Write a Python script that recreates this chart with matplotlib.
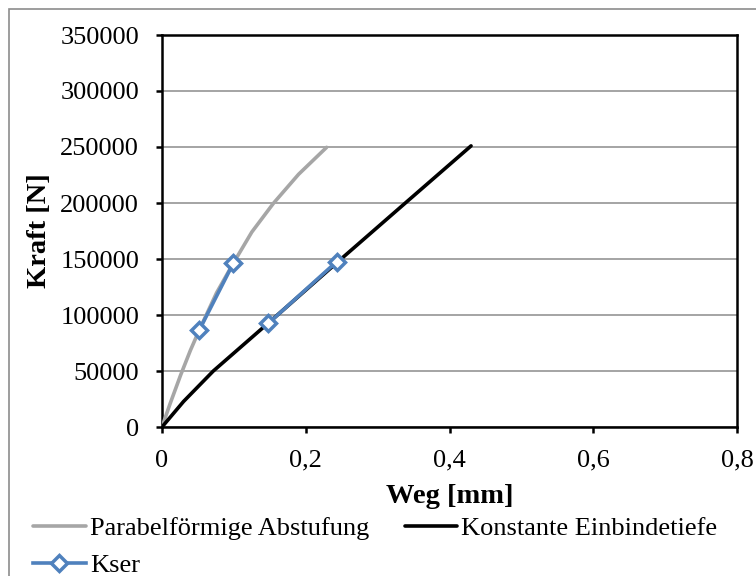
import matplotlib
matplotlib.use("Agg")
import matplotlib.pyplot as plt
from matplotlib.patches import Rectangle
from matplotlib.ticker import FuncFormatter
import numpy as np

plt.rcParams['font.family'] = ['Liberation Serif', 'DejaVu Serif']

# Load-displacement curves
weg_parabel = [0.0, 0.0111, 0.026, 0.0395, 0.0519, 0.076, 0.0992, 0.125, 0.155, 0.19, 0.229]
kraft_parabel = [0, 20500, 46500, 68400, 86600, 119900, 146200, 174100, 199700, 225600, 249700]

weg_konstant = [0.0, 0.03, 0.0714, 0.15, 0.25, 0.34, 0.43]
kraft_konstant = [0, 22800, 50000, 94000, 150500, 200800, 251000]

# Kser secant points (two separate segments)
weg_kser = [0.0519, 0.0992, np.nan, 0.148, 0.243]
kraft_kser = [86600, 146200, np.nan, 92600, 147600]

x_ticks = [0, 0.2, 0.4, 0.6, 0.8]
y_ticks = [0, 50000, 100000, 150000, 200000, 250000, 300000, 350000]

fig = plt.figure(figsize=(7.56, 5.76), dpi=100)
ax = fig.add_axes([162/756, 1 - 427/576, (737 - 162)/756, (427 - 35)/576])

ax.plot(weg_parabel, kraft_parabel, color='#A6A6A6', lw=2.6,
        label='Parabelförmige Abstufung', zorder=3,
        solid_capstyle='round', solid_joinstyle='round')
ax.plot(weg_konstant, kraft_konstant, color='black', lw=2.6,
        label='Konstante Einbindetiefe', zorder=3,
        solid_capstyle='round', solid_joinstyle='round')
ax.plot(weg_kser, kraft_kser, color='#4F81BD', lw=2.6, marker='D', ms=8,
        mfc='white', mec='#4F81BD', mew=2.5, label='Kser', zorder=4,
        solid_joinstyle='round')

ax.set_xlim(0, 0.8)
ax.set_ylim(0, 350000)
ax.set_xticks(x_ticks)
ax.set_yticks(y_ticks)
ax.xaxis.set_major_formatter(FuncFormatter(lambda v, p: ('%g' % v).replace('.', ',')))
ax.yaxis.set_major_formatter(FuncFormatter(lambda v, p: '%d' % v))
ax.grid(axis='y', color='#8C8C8C', lw=1.1)
ax.set_axisbelow(True)
for s in ax.spines.values():
    s.set_color('black')
    s.set_linewidth(1.8)
ax.tick_params(axis='both', direction='out', length=4.5, width=1.8,
               labelsize=19, colors='black')
ax.tick_params(axis='y', pad=12)
ax.tick_params(axis='x', pad=12)

ax.set_xlabel('Weg [mm]', fontsize=20.5, fontweight='bold', labelpad=9)
ax.set_ylabel('Kraft [N]', fontsize=20.5, fontweight='bold', labelpad=6)

h, l = ax.get_legend_handles_labels()
order = [0, 2, 1]
fig.legend([h[i] for i in order], [l[i] for i in order], ncol=2,
           loc='upper left', bbox_to_anchor=(33/756, 1 - 517/576),
           frameon=False, fontsize=19, handlelength=2.0, handletextpad=0.15,
           columnspacing=1.35, labelspacing=0.5, borderpad=0, borderaxespad=0)

fig.patches.append(Rectangle((9/756, -0.05), 1.2, 1 - 9/576 + 0.05,
                             transform=fig.transFigure, fill=False,
                             edgecolor='#8C8C8C', lw=1.2))

fig.savefig('out.png', dpi=100)
